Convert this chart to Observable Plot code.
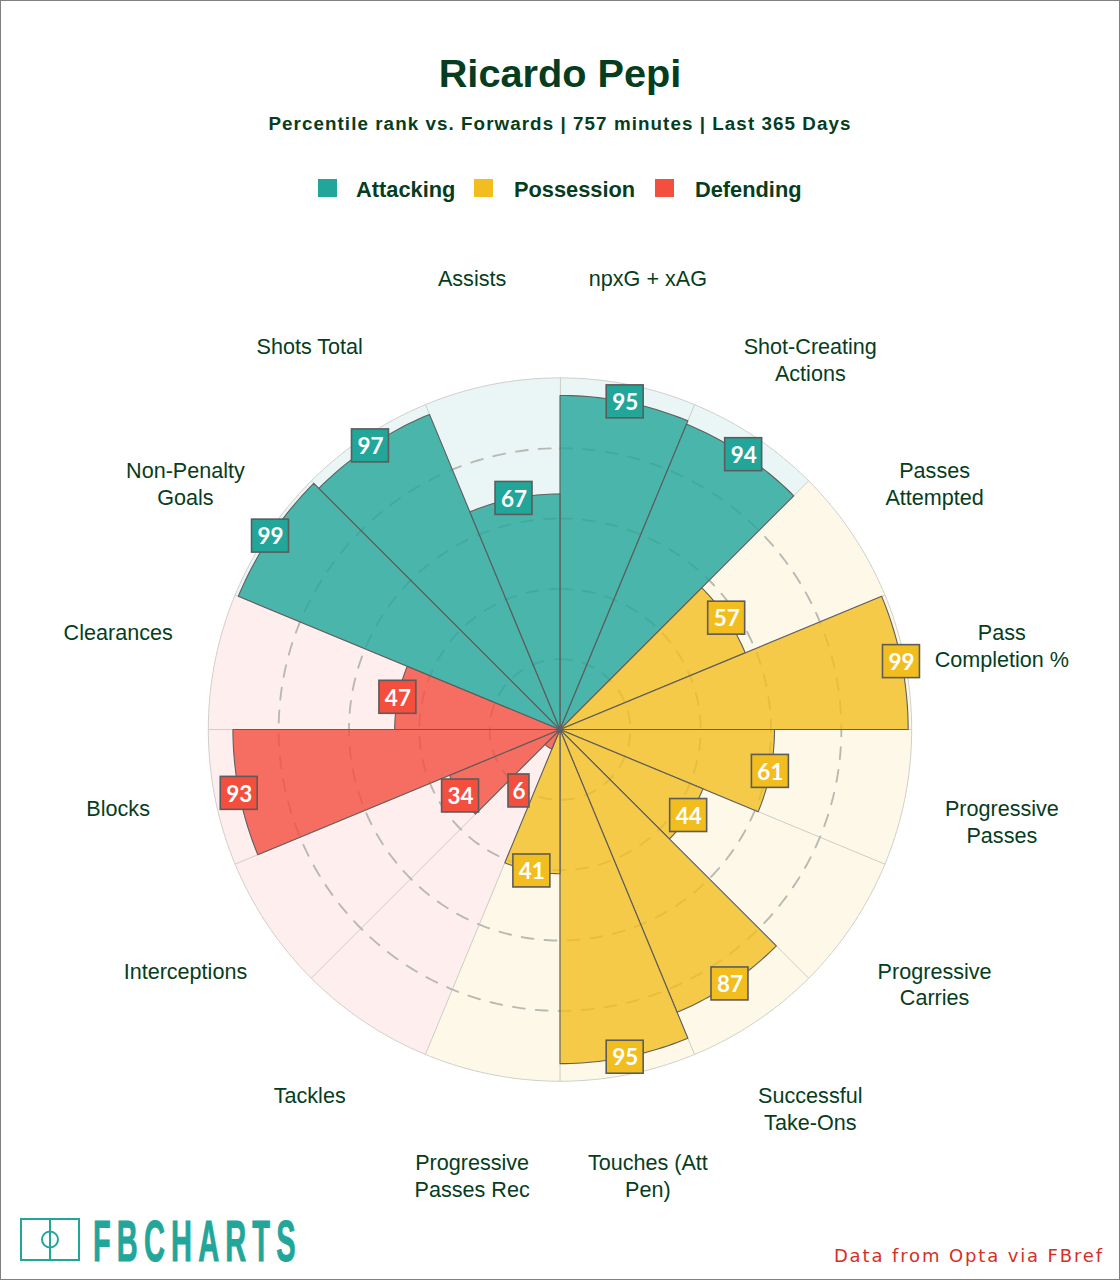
<!DOCTYPE html>
<html>
<head>
<meta charset="utf-8">
<script src="https://cdn.jsdelivr.net/npm/d3@7"></script>
<script src="https://cdn.jsdelivr.net/npm/@observablehq/plot@0.6"></script>
<style>
  html, body { margin: 0; padding: 0; background: #fff; }
  #page { position: relative; width: 1120px; height: 1280px; box-sizing: border-box; border: 1px solid #808080; overflow: hidden; font-family: "Liberation Sans", Arial, sans-serif; color: #063d20; }
  #page > * { position: absolute; }
  #title { left: 0; width: 1118px; top: 50px; text-align: center; font-size: 39.7px; font-weight: bold; line-height: 44px; }
  #subtitle { left: 0; width: 1118px; top: 112px; text-align: center; font-size: 18.8px; font-weight: bold; letter-spacing: 1.07px; line-height: 22px; }
  .sw { width: 19px; height: 18px; top: 178px; }
  .lg { top: 177px; font-size: 21.8px; font-weight: bold; line-height: 24px; white-space: nowrap; }
  #chart { left: -1px; top: 229px; }
  #source { right: 15px; top: 1244px; font-family: "DejaVu Sans", sans-serif; font-size: 18px; letter-spacing: 1.87px; color: #d62f26; line-height: 22px; white-space: nowrap; }
  #logo { left: 0; top: 1200px; overflow: visible; }
</style>
</head>
<body>
<div id="page">
  <div id="title"></div>
  <div id="subtitle"></div>
  <div id="chart"></div>
  <svg id="logo" width="340" height="70" viewBox="0 0 340 70">
    <g fill="none" stroke="#22a699" stroke-width="2">
      <rect x="20" y="18" width="58" height="41"></rect>
      <line x1="49" y1="18" x2="49" y2="59"></line>
      <circle cx="49" cy="38.5" r="8"></circle>
    </g>
    <text id="logotext" transform="translate(92,60) scale(0.5,1)" font-family="'Liberation Sans Narrow','Liberation Sans',sans-serif" font-weight="bold" font-size="58" letter-spacing="12.3" fill="#22a699" stroke="#22a699" stroke-width="1"></text>
  </svg>
  <div id="source"></div>
</div>
<script>
const playerName = "Ricardo Pepi";
const subtitleText = "Percentile rank vs. Forwards | 757 minutes | Last 365 Days";
const sourceText = "Data from Opta via FBref";
const logoText = "FBCHARTS";

const metrics = ["npxG + xAG", "Shot-Creating\nActions", "Passes\nAttempted", "Pass\nCompletion %", "Progressive\nPasses", "Progressive\nCarries", "Successful\nTake-Ons", "Touches (Att\nPen)", "Progressive\nPasses Rec", "Tackles", "Interceptions", "Blocks", "Clearances", "Non-Penalty\nGoals", "Shots Total", "Assists"];
const percentiles = [95, 94, 57, 99, 61, 44, 87, 95, 41, 6, 34, 93, 47, 99, 97, 67];
const groups = ["Attacking", "Attacking", "Possession", "Possession", "Possession", "Possession", "Possession", "Possession", "Possession", "Defending", "Defending", "Defending", "Defending", "Attacking", "Attacking", "Attacking"];
const groupNames = ["Attacking", "Possession", "Defending"];
const groupColors = ["#22a699", "#f2be1f", "#f44e3f"];
const groupTints = ["#e9f6f5", "#fef8e9", "#ffeeee"];
const ringTicks = [20, 40, 60, 80];
const lowValueBoxRadius = 21;

const colorOf = Object.fromEntries(groupNames.map((g, i) => [g, groupColors[i]]));
const tintOf = Object.fromEntries(groupNames.map((g, i) => [g, groupTints[i]]));

document.getElementById("title").textContent = playerName;
document.getElementById("subtitle").textContent = subtitleText;
document.getElementById("source").textContent = sourceText;
document.getElementById("logotext").textContent = logoText;

// legend
const legendSlots = [[317, 355], [473, 513], [654, 694]];
const legend = document.getElementById("page");
groupNames.forEach((g, i) => {
  const s = document.createElement("div");
  s.className = "sw"; s.style.left = legendSlots[i][0] + "px"; s.style.background = groupColors[i];
  const t = document.createElement("div");
  t.className = "lg"; t.style.left = legendSlots[i][1] + "px"; t.textContent = g;
  legend.append(s, t);
});

// polar geometry in percentile units
const n = metrics.length;
const step = 360 / n;
const pol = (r, deg) => [r * Math.sin(deg * Math.PI / 180), r * Math.cos(deg * Math.PI / 180)];
function wedge(i, r) {
  const pts = [{i, p: [0, 0]}];
  for (let k = 0; k <= 24; k++) pts.push({i, p: pol(r, i * step + k * step / 24)});
  return pts;
}
const bgPts = metrics.flatMap((_, i) => wedge(i, 100));
const barPts = metrics.flatMap((_, i) => wedge(i, percentiles[i]));
const ringPts = ringTicks.flatMap(t => d3.range(0, 361, 1).map(a => ({t, p: pol(t, a)})));

const rows = metrics.map((m, i) => {
  const mid = (i + 0.5) * step;
  const v = percentiles[i];
  return {
    label: m, value: v, group: groups[i],
    color: colorOf[groups[i]], tint: tintOf[groups[i]],
    vp: pol(v < 10 ? lowValueBoxRadius : v, mid), lp: pol(128.1, mid)
  };
});

const pxPerUnit = 3.52, W = 1120, H = 1000, cx = 560, cy = 499.5;
const boxStyle = {stroke: "#5c5c5c", strokeWidth: 1.6, fill: {value: d => d.color, scale: null}};

const chart = Plot.plot({
  width: W, height: H, margin: 0,
  style: {background: "transparent", overflow: "visible"},
  x: {axis: null, domain: [-cx / pxPerUnit, (W - cx) / pxPerUnit], range: [0, W]},
  y: {axis: null, domain: [-(H - cy) / pxPerUnit, cy / pxPerUnit], range: [H, 0]},
  marks: [
    Plot.line(bgPts, {x: d => d.p[0], y: d => d.p[1], z: "i", curve: "linear-closed",
      fill: {value: d => tintOf[groups[d.i]], scale: null}, stroke: "#cfcfc9", strokeWidth: 1}),
    Plot.line(ringPts, {x: d => d.p[0], y: d => d.p[1], z: "t", stroke: "#b9b9b4", strokeWidth: 1.9, strokeDasharray: "12,11"}),
    Plot.line(barPts, {x: d => d.p[0], y: d => d.p[1], z: "i", curve: "linear-closed",
      fill: {value: d => colorOf[groups[d.i]], scale: null}, fillOpacity: 0.8, stroke: "#5f5f5f", strokeWidth: 1.1}),
    Plot.rect(rows.filter(d => d.value >= 10), {x1: d => d.vp[0], x2: d => d.vp[0], y1: d => d.vp[1], y2: d => d.vp[1],
      insetLeft: -18.5, insetRight: -18.5, insetTop: -16.5, insetBottom: -16.5, ...boxStyle}),
    Plot.rect(rows.filter(d => d.value < 10), {x1: d => d.vp[0], x2: d => d.vp[0], y1: d => d.vp[1], y2: d => d.vp[1],
      insetLeft: -10.5, insetRight: -10.5, insetTop: -16.5, insetBottom: -16.5, ...boxStyle}),
    Plot.text(rows, {x: d => d.vp[0], y: d => d.vp[1], text: d => String(d.value), fill: "#fff", dy: 1,
      fontFamily: "Lato, sans-serif", fontWeight: "bold", fontSize: 22.5, lineAnchor: "middle"}),
    Plot.text(rows, {x: d => d.lp[0], y: d => d.lp[1], text: "label", fill: "#063d20",
      fontFamily: "'Liberation Sans', sans-serif", fontSize: 21.6, lineAnchor: "top", lineHeight: 1.25, dy: -20.5})
  ]
});
document.getElementById("chart").append(chart);
</script>
</body>
</html>
